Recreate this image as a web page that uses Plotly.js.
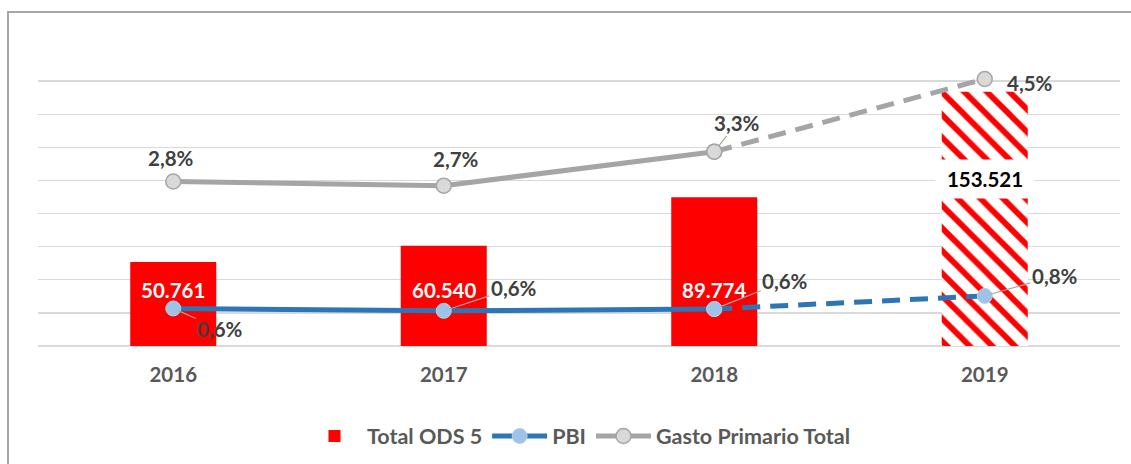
<!DOCTYPE html>
<html>
<head>
<meta charset="utf-8">
<script src="https://cdn.plot.ly/plotly-3.0.1.min.js"></script>
<style>
  html, body { margin: 0; padding: 0; background: #ffffff; overflow: hidden; }
  #frame { position: absolute; left: 7px; top: 11px; width: 1300px; height: 700px;
           border-left: 2px solid #a6a6a6; border-top: 2px solid #a6a6a6; }
  #chart { position: absolute; left: 0; top: 0; width: 1131px; height: 464px; }
</style>
</head>
<body>
<div id="frame"></div>
<div id="chart"></div>
<script>
// ---- data ----
const years = ['2016', '2017', '2018', '2019'];
const odsTotal = [50761, 60540, 89774, 153521];          // Total ODS 5
const pbiShare = [0.0063, 0.0059, 0.0062, 0.0084];        // % del PBI
const gastoShare = [0.0276, 0.0269, 0.0326, 0.0448];      // % del Gasto Primario Total
const seriesNames = ['Total ODS 5', 'PBI', 'Gasto Primario Total'];

// ---- helpers ----
const fmtThousands = v => Math.round(v).toString().replace(/\B(?=(\d{3})+(?!\d))/g, '.');
const fmtPct = v => (v * 100).toFixed(1).replace('.', ',') + '%';

const FONT = 'Lato, "Open Sans", sans-serif';
const RED = '#ff0000';
const BLUE = '#2e75b6';
const BLUE_M = '#9dc3e6';
const GRAY = '#a5a5a5';
const GRAY_M = '#d9d9d9';

const last = years.length - 1;

const traces = [
  {
    type: 'bar', name: seriesNames[0], x: years, y: odsTotal,
    marker: {
      color: RED, line: { width: 0 },
      pattern: {
        shape: years.map((_, i) => i === last ? '\\' : ''),
        fgcolor: RED, bgcolor: '#ffffff', size: 16, solidity: 0.36, fillmode: 'replace'
      }
    },
    hoverinfo: 'skip'
  },
  // PBI solid part
  {
    type: 'scatter', mode: 'lines+markers', name: seriesNames[1], legendgroup: 'pbi',
    x: years.slice(0, last), y: pbiShare.slice(0, last), yaxis: 'y2',
    line: { color: BLUE, width: 5 },
    marker: { size: 15, color: BLUE_M, line: { color: '#b4d2ee', width: 1 } }
  },
  // PBI dashed part
  {
    type: 'scatter', mode: 'lines+markers', name: seriesNames[1], legendgroup: 'pbi', showlegend: false,
    x: years.slice(last - 1), y: pbiShare.slice(last - 1), yaxis: 'y2',
    line: { color: BLUE, width: 5, dash: '18px,10px' },
    marker: { size: 15, color: BLUE_M, line: { color: '#b4d2ee', width: 1 } }
  },
  // Gasto solid part
  {
    type: 'scatter', mode: 'lines+markers', name: seriesNames[2], legendgroup: 'gasto',
    x: years.slice(0, last), y: gastoShare.slice(0, last), yaxis: 'y2',
    line: { color: GRAY, width: 5 },
    marker: { size: 15, color: GRAY_M, line: { color: GRAY, width: 1.5 } }
  },
  // Gasto dashed part
  {
    type: 'scatter', mode: 'lines+markers', name: seriesNames[2], legendgroup: 'gasto', showlegend: false,
    x: years.slice(last - 1), y: gastoShare.slice(last - 1), yaxis: 'y2',
    line: { color: GRAY, width: 5, dash: '18px,10px' },
    marker: { size: 15, color: GRAY_M, line: { color: GRAY, width: 1.5 } }
  }
];

const lblFont = { family: FONT, size: 20.5, color: '#404040', weight: 'bold' };
const annotations = [];

// bar value labels (category axis: x given as category index)
years.forEach((yr, i) => {
  if (i < last) {
    annotations.push({
      x: i, y: 34000, xref: 'x', yref: 'y', text: fmtThousands(odsTotal[i]),
      showarrow: false, font: { family: FONT, size: 20.5, color: '#ffffff', weight: 'bold' }
    });
  } else {
    annotations.push({
      x: i, y: 101000, xref: 'x', yref: 'y', text: fmtThousands(odsTotal[i]),
      showarrow: false, bgcolor: '#ffffff', borderpad: 5, width: 88, height: 28,
      font: { family: FONT, size: 20.5, color: '#000000', weight: 'bold' }
    });
  }
});

// PBI labels (all with leader lines)
const pbiOff = [[47, 21], [70, -23], [71, -28], [70, -20]];
years.forEach((yr, i) => {
  annotations.push({
    x: i, y: pbiShare[i], xref: 'x', yref: 'y2', text: fmtPct(pbiShare[i]),
    showarrow: true, arrowhead: 0, arrowwidth: 1.2, arrowcolor: '#a6a6a6', standoff: 6,
    ax: pbiOff[i][0], ay: pbiOff[i][1], font: lblFont
  });
});

// Gasto labels
const gastoOff = [[-2, -24, false], [12, -27, false], [23, -29, true], [45, 4, false]];
years.forEach((yr, i) => {
  const o = gastoOff[i];
  if (o[2]) {
    annotations.push({
      x: i, y: gastoShare[i], xref: 'x', yref: 'y2', text: fmtPct(gastoShare[i]),
      showarrow: true, arrowhead: 0, arrowwidth: 1.2, arrowcolor: '#a6a6a6', standoff: 7,
      ax: o[0], ay: o[1], font: lblFont
    });
  } else {
    annotations.push({
      x: i, y: gastoShare[i], xref: 'x', yref: 'y2', text: fmtPct(gastoShare[i]),
      showarrow: false, xshift: o[0], yshift: -o[1], font: lblFont
    });
  }
});

const layout = {
  width: 1131, height: 464,
  margin: { l: 38, r: 11, t: 48, b: 118, autoexpand: false },
  paper_bgcolor: 'rgba(0,0,0,0)', plot_bgcolor: 'rgba(0,0,0,0)',
  bargap: 0.682,
  hovermode: false,
  showlegend: true,
  xaxis: {
    type: 'category', range: [-0.5, years.length - 0.5], autorange: false,
    showgrid: false, zeroline: false, showline: false, ticks: '', automargin: false,
    ticklabelstandoff: 14,
    tickfont: { family: FONT, size: 20.5, color: '#595959', weight: 'bold' }
  },
  yaxis: {
    range: [0, 180000], dtick: 20000, showticklabels: false, ticks: '', automargin: false,
    showgrid: true, gridcolor: '#d9d9d9', gridwidth: 1.3,
    zeroline: true, zerolinecolor: '#d9d9d9', zerolinewidth: 1.3, showline: false
  },
  yaxis2: {
    range: [0, 0.05], overlaying: 'y', side: 'right', visible: false, showgrid: false, zeroline: false
  },
  legend: {
    orientation: 'h', x: 0.5, xanchor: 'center', y: -0.302, yanchor: 'middle',
    font: { family: FONT, size: 21.5, color: '#595959', weight: 'bold' },
    itemwidth: 55, traceorder: 'normal', bgcolor: 'rgba(0,0,0,0)'
  },
  annotations: annotations
};

Plotly.newPlot('chart', traces, layout, { displayModeBar: false, staticPlot: true });
</script>
</body>
</html>
